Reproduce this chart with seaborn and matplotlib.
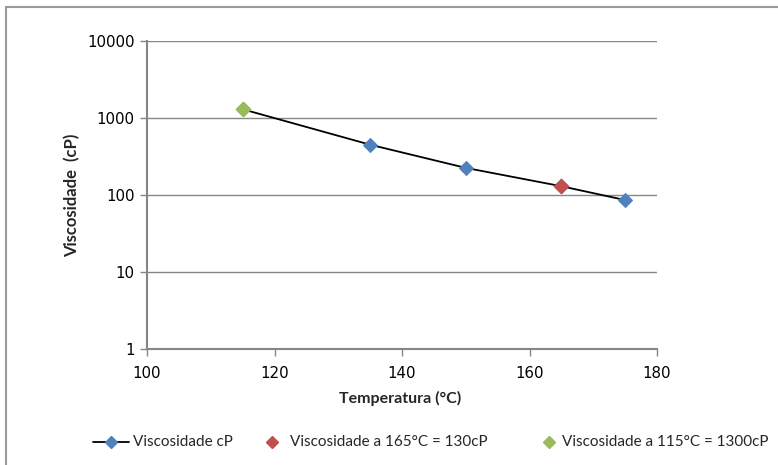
import matplotlib
matplotlib.use("Agg")
import matplotlib.pyplot as plt
import matplotlib.patches as mpatches
from matplotlib.lines import Line2D
from matplotlib.ticker import FixedLocator, NullLocator, FixedFormatter
import seaborn as sns
import pandas as pd

# Viscosity vs temperature data
temperatura = [115, 135, 150, 165, 175]
viscosidade = [1300, 450, 225, 130, 86]
temp_165 = [165]
visc_165 = [130]
temp_115 = [115]
visc_115 = [1300]

y_ticks = [1, 10, 100, 1000, 10000]
y_tick_labels = ["1", "10", "100", "1000", "10000"]
x_ticks = [100, 120, 140, 160, 180]

serie_label = "Viscosidade cP"
label_165 = "Viscosidade a 165°C = 130cP"
label_115 = "Viscosidade a 115°C = 1300cP"

BLUE = "#4F81BD"
RED = "#C0504D"
GREEN = "#9BBB59"
GRID = "#868686"

sns.set_theme(style="white")
plt.rcParams["font.family"] = ["Lato", "DejaVu Sans"]

W, H = 778, 465
fig = plt.figure(figsize=(W / 100, H / 100), dpi=100)
ax = fig.add_axes([147 / W, 1 - 349 / H, (657 - 147) / W, (349 - 41) / H])

df = pd.DataFrame({"T": temperatura, "V": viscosidade})
sns.lineplot(data=df, x="T", y="V", ax=ax, color="black", lw=1.3,
             marker="D", markersize=7.5, markerfacecolor=BLUE,
             markeredgecolor=BLUE, zorder=3)
sns.scatterplot(x=temp_165, y=visc_165, ax=ax, marker="D", s=58,
                color=RED, edgecolor=RED, zorder=4)
sns.scatterplot(x=temp_115, y=visc_115, ax=ax, marker="D", s=58,
                color=GREEN, edgecolor=GREEN, zorder=4)

ax.set_yscale("log")
ax.set_ylim(1, 10000)
ax.set_xlim(100, 180)
ax.yaxis.set_major_locator(FixedLocator(y_ticks))
ax.yaxis.set_major_formatter(FixedFormatter(y_tick_labels))
ax.yaxis.set_minor_locator(NullLocator())
ax.xaxis.set_major_locator(FixedLocator(x_ticks))

ax.grid(axis="y", color=GRID, lw=1.0)
ax.grid(axis="x", visible=False)
for side in ["top", "right"]:
    ax.spines[side].set_visible(False)
for side in ["left", "bottom"]:
    ax.spines[side].set_color(GRID)
    ax.spines[side].set_linewidth(1.5)

ax.tick_params(axis="both", which="major", length=5, width=1, color=GRID,
               labelcolor="black", direction="out", pad=4,
               left=True, bottom=True)
for lbl in ax.get_xticklabels() + ax.get_yticklabels():
    lbl.set_fontfamily(["DejaVu Sans"])
    lbl.set_fontsize(10.8)
ax.tick_params(axis="x", pad=7)

ax.set_xlabel("Temperatura (°C)", fontsize=11.5, fontweight="bold")
ax.set_ylabel("Viscosidade  (cP)", fontsize=12, fontweight="bold")
ax.xaxis.set_label_coords((400 - 147) / 510, (349 - 398) / 308)
ax.yaxis.set_label_coords((72 - 147) / 510, 0.5)
ax.xaxis.label.set_va("center")
ax.yaxis.label.set_va("center")

# legend row below the axes
def fx(px):
    return px / W

def fy(py):
    return 1 - py / H

leg_y = 441.5
leg_fs = 11
renderer = fig.canvas.get_renderer()

def add_marker(px, col):
    fig.add_artist(Line2D([fx(px)], [fy(leg_y)], color="none", marker="D",
                          markersize=6.5, markerfacecolor=col,
                          markeredgecolor=col, transform=fig.transFigure))

# first entry: line with diamond, then label
fig.add_artist(Line2D([fx(93), fx(129)], [fy(leg_y), fy(leg_y)],
                      color="black", lw=1.3, transform=fig.transFigure))
add_marker(111, BLUE)
fig.text(fx(133), fy(leg_y), serie_label, fontsize=leg_fs, ha="left",
         va="center")

# second entry
add_marker(272, RED)
fig.text(fx(290), fy(leg_y), label_165, fontsize=leg_fs, ha="left",
         va="center")

# third entry, right edge kept inside the frame
t3 = fig.text(fx(768), fy(leg_y), label_115, fontsize=leg_fs, ha="right",
              va="center")
left3 = t3.get_window_extent(renderer).x0
add_marker(left3 - 13, GREEN)

# chart area border
frame = mpatches.Rectangle((6 / W, -0.05), 1.1, 1 - 7 / H + 0.05,
                           transform=fig.transFigure, fill=False,
                           edgecolor="#9a9a9a", lw=1.5, clip_on=False)
fig.patches.append(frame)

fig.savefig("out.png", dpi=100)
